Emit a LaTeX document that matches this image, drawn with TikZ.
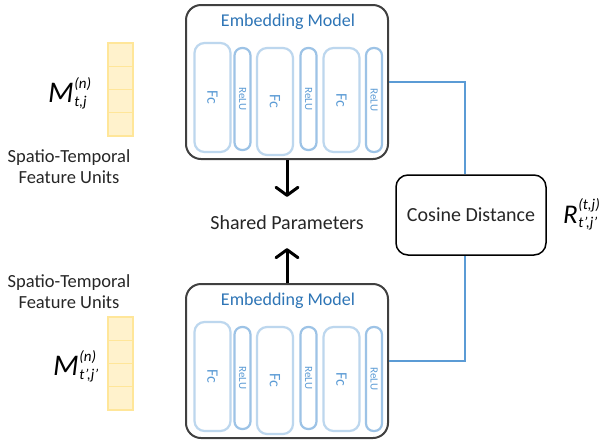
\documentclass[tikz,border=0pt]{standalone}
\usepackage{fontspec}
\setmainfont{Carlito}
\usetikzlibrary{arrows.meta}
\definecolor{boxgray}{HTML}{404040}
\definecolor{fcblue}{HTML}{BDD7EE}
\definecolor{relublue}{HTML}{9DC3E6}
\definecolor{txtblue}{HTML}{5B9BD5}
\definecolor{titleblue}{HTML}{2E75B6}
\definecolor{cellfill}{HTML}{FFF2CC}
\definecolor{celldraw}{HTML}{FFE699}
\definecolor{linkblue}{HTML}{5B9BD5}
\newcommand{\symlbl}[4]{{\fontsize{#4}{#4}\selectfont\itshape #1}\kern0.5pt\raisebox{-4pt}{\fontsize{15}{18}\selectfont\itshape\begin{tabular}[b]{@{}l@{}}#2\\#3\end{tabular}}}
\tikzset{
  embbox/.style={draw=boxgray, line width=2pt, rounded corners=15pt, fill=white,
    minimum width=202pt, minimum height=154pt, inner sep=0pt},
  title/.style={text=titleblue, font=\fontsize{18}{20}\selectfont, inner sep=0pt},
  fcbox/.style={draw=fcblue, line width=2.2pt, rounded corners=10pt, minimum height=36pt,
    text=txtblue, font=\fontsize{16}{16}\selectfont, inner sep=0pt, rotate=-90},
  relubox/.style={draw=relublue, line width=2.2pt, rounded corners=7.5pt, minimum height=16pt,
    text=txtblue, font=\fontsize{11}{11}\selectfont, inner sep=0pt, rotate=-90},
  cell/.style={draw=celldraw, fill=cellfill, line width=1.2pt, minimum width=25pt,
    minimum height=23.25pt, inner sep=0pt},
  plain/.style={font=\fontsize{18.5}{21}\selectfont, align=center, inner sep=0pt, text=black!85},
  shared/.style={font=\fontsize{20}{22}\selectfont, inner sep=0pt, text=black!85},
  cosbox/.style={draw=black, line width=1.5pt, rounded corners=12pt, minimum width=150pt,
    minimum height=80pt, font=\fontsize{20}{22}\selectfont, text=black!85},
  link/.style={draw=linkblue, line width=1.5pt},
  arr/.style={line width=3pt, -{Straight Barb[length=8pt,width=22pt,line width=3pt,round]}}
}
\newcommand{\embmodel}[2]{%
  \begin{scope}[shift={(0,#2)}]
    \node[embbox] (#1) at (287,82) {};
    \node[title] (#1t) at (288,22) {Embedding Model};
    \node[fcbox, minimum width=109pt] (#1f1) at (212.5,97.5) {Fc};
    \node[relubox, minimum width=102pt] (#1r1) at (242.5,99) {ReLU};
    \node[fcbox, minimum width=107pt] (#1f2) at (275,101.5) {Fc};
    \node[relubox, minimum width=102pt] (#1r2) at (308.5,99) {ReLU};
    \node[fcbox, minimum width=104pt] (#1f3) at (341.5,100) {Fc};
    \node[relubox, minimum width=104pt] (#1r3) at (374,100) {ReLU};
  \end{scope}}
\begin{document}
\begin{tikzpicture}[x=1pt,y=-1pt]
\useasboundingbox (0,0) rectangle (602,440);
\embmodel{ema}{0}
\embmodel{emb}{279}
% feature units
\foreach \i in {0,1,2,3} {
  \node[cell] (ca\i) at (120.5,{54.6+23.25*\i}) {};
  \node[cell] (cb\i) at (120.5,{328.6+23.25*\i}) {};
}
\node[anchor=base west, inner sep=0pt] (ma) at (48,102) {\symlbl{M}{(n)}{t,j}{30}};
\node[anchor=base west, inner sep=0pt] (mb) at (53,375) {\symlbl{M}{(n)}{t’,j’}{30}};
\node[plain] (sta) at (69,167) {Spatio-Temporal\\Feature Units};
\node[plain] (stb) at (69,292) {Spatio-Temporal\\Feature Units};
% shared
\node[shared, minimum height=51pt] (sh) at (287,222.5) {Shared Parameters};
\draw[arr] (ema.south) -- (sh.north);
\draw[arr] (emb.north) -- (sh.south);
% cosine
\node[cosbox] (cos) at (471,215) {Cosine Distance};
\draw[link] (ema.east) -| ([xshift=-6pt]cos.north);
\draw[link] (emb.east) -| ([xshift=-6pt]cos.south);
\node[anchor=base west, inner sep=0pt] (rl) at (563,223) {\symlbl{R}{(t,j)}{t’,j’}{27}};
\end{tikzpicture}
\end{document}
